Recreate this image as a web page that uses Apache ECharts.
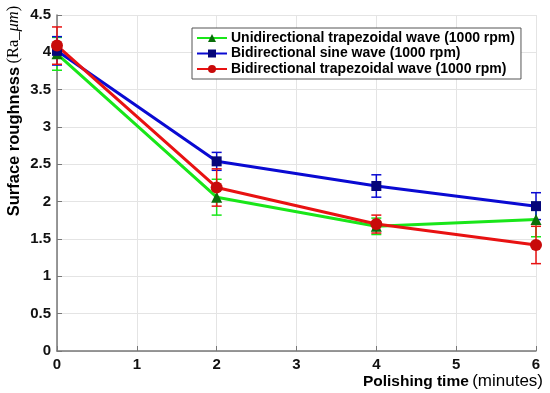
<!DOCTYPE html>
<html><head><meta charset="utf-8">
<script src="https://cdn.jsdelivr.net/npm/echarts@6/dist/echarts.min.js"></script>
<style>html,body{margin:0;padding:0;background:#fff}#c{width:550px;height:393px}</style>
</head><body><div id="c"></div>
<script>
var times = [0, 2, 4, 6];
var xTicks = [0, 1, 2, 3, 4, 5, 6];
var yTicks = [0, 0.5, 1, 1.5, 2, 2.5, 3, 3.5, 4, 4.5];
var names = ['Unidirectional trapezoidal wave (1000 rpm)', 'Bidirectional sine wave (1000 rpm)', 'Bidirectional trapezoidal wave (1000 rpm)'];
var uniTrap = [3.98, 2.06, 1.67, 1.76];
var uniTrapErr = [0.22, 0.24, 0.11, 0.23];
var biSine = [4.02, 2.54, 2.21, 1.94];
var biSineErr = [0.19, 0.12, 0.15, 0.18];
var biTrap = [4.09, 2.19, 1.70, 1.42];
var biTrapErr = [0.25, 0.25, 0.12, 0.25];
var yTitle = ['Surface roughness', '(Ra_', 'μm', ')'];
var xTitle = ['Polishing time', '(minutes)'];

var lineColors = ['#19e619', '#0a0ad2', '#e81212'];
var fillColors = ['#0a6e0a', '#06067a', '#c80a0a'];
var symbols = ['triangle', 'rect', 'circle'];
var sizes = [11, 10, 12];
var vals = [uniTrap, biSine, biTrap];
var errs = [uniTrapErr, biSineErr, biTrapErr];

var series = [];
vals.forEach(function (v, i) {
  series.push({
    type: 'custom', name: names[i] + ' err', z: 2,
    data: times.map(function (t, k) { return [t, v[k] - errs[i][k], v[k] + errs[i][k]]; }),
    renderItem: function (params, api) {
      var lo = api.coord([api.value(0), api.value(1)]);
      var hi = api.coord([api.value(0), api.value(2)]);
      var w = 5;
      var st = { stroke: lineColors[i], lineWidth: 1.5 };
      return { type: 'group', children: [
        { type: 'line', shape: { x1: lo[0], y1: lo[1], x2: hi[0], y2: hi[1] }, style: st },
        { type: 'line', shape: { x1: lo[0] - w, y1: lo[1], x2: lo[0] + w, y2: lo[1] }, style: st },
        { type: 'line', shape: { x1: hi[0] - w, y1: hi[1], x2: hi[0] + w, y2: hi[1] }, style: st }
      ] };
    }
  });
});
vals.forEach(function (v, i) {
  series.push({
    type: 'line', name: names[i], z: 3,
    data: times.map(function (t, k) { return [t, v[k]]; }),
    symbol: symbols[i], symbolSize: sizes[i],
    lineStyle: { color: lineColors[i], width: 3 },
    itemStyle: { color: fillColors[i], borderColor: fillColors[i], borderWidth: 0 },
    color: lineColors[i]
  });
});

var sans = 'Liberation Sans, Arial, sans-serif';
var serif = 'Liberation Serif, Times New Roman, serif';
var chart = echarts.init(document.getElementById('c'), null, { renderer: 'canvas' });
chart.setOption({
  animation: false,
  grid: { left: 57, right: 14, top: 15, bottom: 42 },
  legend: {
    data: names, orient: 'vertical', left: 192, top: 28,
    itemWidth: 30, itemHeight: 10, itemGap: 1.5,
    padding: [3, 6, 3, 4],
    backgroundColor: '#fff', borderColor: '#555', borderWidth: 1,
    textStyle: { fontFamily: sans, fontWeight: 'bold', fontSize: 14, lineHeight: 12, color: '#000', padding: [0, 0, 0, -1] }
  },
  graphic: [{
    type: 'text', x: 14, y: 111, rotation: Math.PI / 2,
    style: {
      text: '{b|' + yTitle[0] + '} {n|' + yTitle[1] + '}{i|' + yTitle[2] + '}{n|' + yTitle[3] + '}',
      align: 'center', verticalAlign: 'middle',
      rich: {
        b: { fontFamily: sans, fontWeight: 'bold', fontSize: 16.5, fill: '#000' },
        n: { fontFamily: serif, fontSize: 16.5, fill: '#000' },
        i: { fontFamily: serif, fontStyle: 'italic', fontSize: 16.5, fill: '#000' }
      }
    }
  }],
  xAxis: {
    type: 'value', min: 0, max: 6, interval: 1,
    axisLine: { lineStyle: { color: '#777', width: 1.5 } },
    axisTick: { inside: true, length: 5, lineStyle: { color: '#777' } },
    axisLabel: { color: '#111', fontWeight: 'bold', fontSize: 15, fontFamily: sans, margin: 6 },
    splitLine: { show: true, lineStyle: { color: '#e4e4e4' } },
    name: '{b|' + xTitle[0] + '} {n|' + xTitle[1] + '}', nameLocation: 'end', nameGap: 7,
    nameTextStyle: {
      align: 'right', verticalAlign: 'top', padding: [22, 0, 0, 0],
      rich: {
        b: { fontFamily: sans, fontWeight: 'bold', fontSize: 15.5, color: '#000' },
        n: { fontFamily: sans, fontSize: 17, color: '#000' }
      }
    }
  },
  yAxis: {
    type: 'value', min: 0, max: 4.5, interval: 0.5,
    axisLine: { show: true, lineStyle: { color: '#777', width: 1.5 } },
    axisTick: { show: true, inside: true, length: 5, lineStyle: { color: '#777' } },
    axisLabel: { color: '#111', fontWeight: 'bold', fontSize: 15, fontFamily: sans, margin: 6,
      formatter: function (v) { return String(v); } },
    splitLine: { show: true, lineStyle: { color: '#e4e4e4' } }
  },
  series: series
});
</script></body></html>
